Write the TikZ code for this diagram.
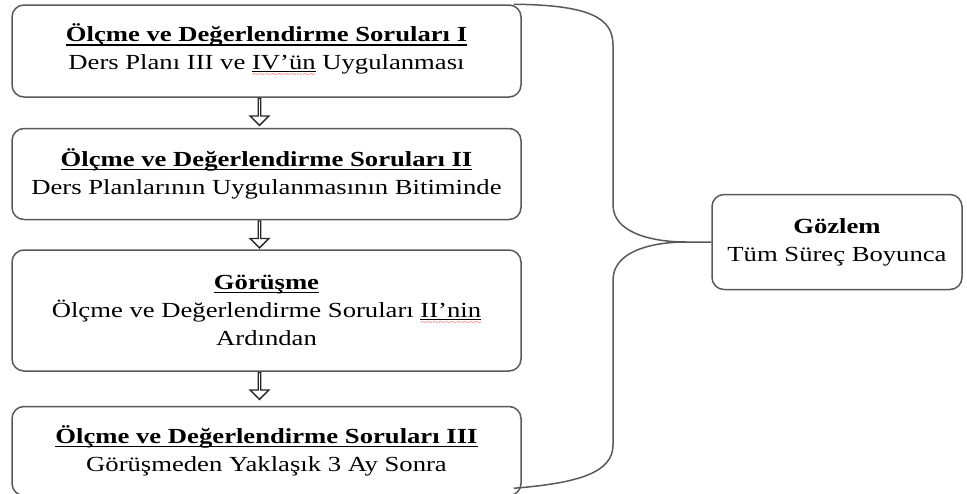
\documentclass[tikz,border=0pt]{standalone}
\usepackage{fontspec}
\setmainfont{Liberation Serif}[FakeStretch=1.24]
\usetikzlibrary{positioning,calc,shapes.arrows}

% black line and red wave under a word
\newcommand\spellmark[1]{\setbox0\hbox{#1}%
  \rlap{\lower1.5pt\hbox{\vrule width\wd0 height0pt depth0.8pt}}%
  \rlap{\lower8pt\hbox to\wd0{\color{red!75}\xleaders\hbox{\fontsize{9}{9}\selectfont\string~}\hfil}}%
  \box0\relax}
% bold underlined heading of a stage
\newcommand\stagetitle[1]{\setbox0\hbox{\bfseries #1}%
  \rlap{\lower2.5pt\hbox{\vrule width\wd0 height0pt depth1.3pt}}%
  \box0\relax}

\tikzset{
  stage/.style={draw=black!65, line width=1.5pt, rounded corners=12pt,
    minimum width=509pt, inner sep=0pt, align=center,
    font=\fontsize{21.5}{28}\selectfont},
  downarrow/.style={single arrow, draw=black!85, line width=1.3pt,
    minimum height=27pt, minimum width=19pt, single arrow head extend=4pt,
    shape border rotate=270, inner sep=0pt},
  brace/.style={draw=black!65, line width=1.5pt}
}

\begin{document}
\begin{tikzpicture}[x=1pt, y=-1pt, node distance=30pt]
  \useasboundingbox (0,0) rectangle (967,493);

  \node[stage, minimum height=92pt] (olcme1) at (266.5,51)
    {\stagetitle{Ölçme ve Değerlendirme Soruları I}\\
     Ders Planı III ve \spellmark{IV’ün} Uygulanması};
  \node[stage, minimum height=91pt, below=30pt of olcme1] (olcme2)
    {\stagetitle{Ölçme ve Değerlendirme Soruları II}\\
     Ders Planlarının Uygulanmasının Bitiminde};
  \node[stage, minimum height=121pt, below=29pt of olcme2] (gorusme)
    {\stagetitle{Görüşme}\\
     Ölçme ve Değerlendirme Soruları \spellmark{II’nin}\\
     Ardından};
  \node[stage, minimum height=89pt, below=34pt of gorusme] (olcme3)
    {\stagetitle{Ölçme ve Değerlendirme Soruları III}\\
     Görüşmeden Yaklaşık 3 Ay Sonra};

  \node[stage, minimum width=250pt, minimum height=95pt] (gozlem) at (837,242)
    {\textbf{Gözlem}\\ Tüm Süreç Boyunca};

  % hollow arrows between the stages
  \node[downarrow, anchor=tail] (ok1) at ([xshift=-7pt]olcme1.south) {};
  \node[downarrow, anchor=tail] (ok2) at ([xshift=-7pt]olcme2.south) {};
  \node[downarrow, anchor=tail] (ok3) at ([xshift=-7pt]gorusme.south) {};

  % brace towards Gozlem
  \coordinate (braceTop) at ([xshift=-8pt]olcme1.north east);
  \coordinate (braceBot) at ([xshift=-8pt,yshift=8pt]olcme3.south east);
  \coordinate (braceTip) at ([xshift=-25pt]gozlem.west);
  \draw[brace] (braceTop) .. controls (590,5) and (613,18) .. (613,45)
    -- (613,205) .. controls (613,232) and (650,242) .. (braceTip)
    -- (gozlem.west);
  \draw[brace] (braceTip) .. controls (650,242) and (613,252) .. (613,280)
    -- (613,445) .. controls (613,472) and (580,483) .. (braceBot);
\end{tikzpicture}
\end{document}
